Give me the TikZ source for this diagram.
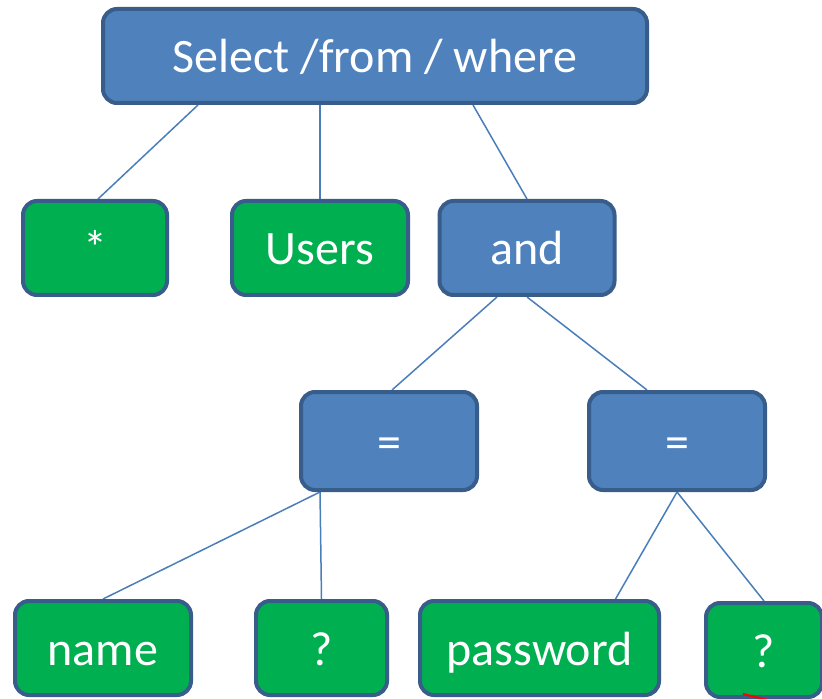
\documentclass[tikz,border=0pt]{standalone}
\usepackage{fontspec}
\setmainfont{Carlito}
\usetikzlibrary{backgrounds}
\definecolor{opfill}{HTML}{4F81BD}
\definecolor{opline}{HTML}{385D8A}
\definecolor{leaffill}{HTML}{00B050}
\definecolor{edgecol}{HTML}{4A7EBB}
\tikzstyle{op} = [rectangle, rounded corners=7pt, minimum height=47pt, text height=20pt, text depth=3pt, text centered, draw=opline, line width=2pt, fill=opfill, text=white, font=\fontsize{24}{28}\selectfont]
\tikzstyle{leaf} = [op, fill=leaffill]
\tikzstyle{edge} = [draw=edgecol, line width=0.75pt]

\begin{document}
\begin{tikzpicture}[x=0.5pt, y=-0.5pt]
	\useasboundingbox (0,0) rectangle (822,699);
	\node (sel) [op, minimum width=272pt] at (375,56) {Select /from / where};
	\node (star) [leaf, minimum width=72pt] at (95,248) {*};
	\node (users) [leaf, minimum width=88pt] at (320,248) {Users};
	\node (and) [op, minimum width=87.5pt] at (527,248) {and};
	\node (eql) [op, minimum width=88pt, minimum height=49pt] at (389,441) {=};
	\node (eqr) [op, minimum width=88pt, minimum height=49pt] at (677,441) {=};
	\node (name) [leaf, minimum width=88pt] at (103,648) {name};
	\node (ql) [leaf, minimum width=65.5pt] at (321.5,648) {?};
	\node (pw) [leaf, minimum width=119.5pt] at (539.5,648) {password};
	\node (qr) [leaf, minimum width=58pt] at (764,650) {?};

	\begin{pgfonlayer}{background}
	\draw [edge] ([xshift=-88.5pt]sel.south) -- ([xshift=1.5pt]star.north);
	\draw [edge] ([xshift=-27.5pt]sel.south) -- (users.north);
	\draw [edge] ([xshift=49pt]sel.south) -- (and.north);
	\draw [edge] ([xshift=-15pt]and.south) -- ([xshift=1.5pt]eql.north);
	\draw [edge] (and.south) -- ([xshift=-15pt]eqr.north);
	\draw [edge] ([xshift=-34.5pt]eql.south) -- (name.north);
	\draw [edge] ([xshift=-34.5pt]eql.south) -- (ql.north);
	\draw [edge] (eqr.south) -- ([xshift=38pt]pw.north);
	\draw [edge] (eqr.south) -- (qr.north);
	\end{pgfonlayer}

	% pen stroke under the last box
	\draw [red, line width=1pt] (743,694) -- (768,700);
\end{tikzpicture}
\end{document}
